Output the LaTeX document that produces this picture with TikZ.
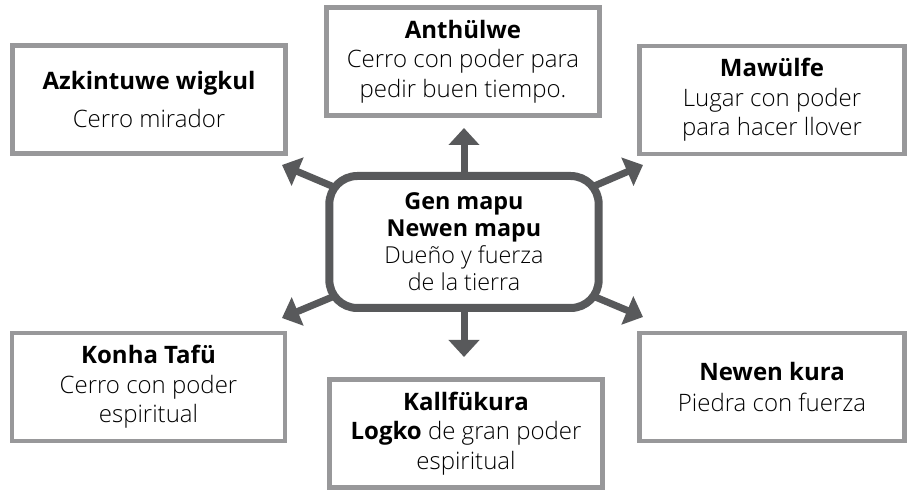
\documentclass[tikz,border=0pt]{standalone}
\usepackage{fontspec}
\setmainfont{Open Sans Light}[BoldFont=Open Sans Bold]
\usetikzlibrary{arrows.meta,backgrounds}
\definecolor{boxgray}{RGB}{152,152,154}
\definecolor{hubgray}{RGB}{88,89,91}
\begin{document}
\begin{tikzpicture}[x=0.75pt,y=-0.75pt,
    infobox/.style={draw=boxgray, line width=3.4pt, fill=white, minimum width=205pt, minimum height=81pt, inner sep=0pt, align=center, font=\fontsize{18}{22}\selectfont},
    hub/.style={draw=hubgray, line width=6pt, fill=white, rounded corners=21pt, minimum width=202pt, minimum height=99pt, inner sep=0pt, align=center, font=\fontsize{17.5}{20.3}\selectfont},
    spoke/.style={draw=hubgray, line width=5.25pt, -{Triangle[width=22.5pt,length=12.75pt]}}]

                \useasboundingbox (0,0) rectangle (907,491);

                \node[hub] (main) at (464,242) {\textbf{Gen mapu}\\\textbf{Newen mapu}\\Dueño y fuerza\\de la tierra};

                \node[infobox] (azk) at (149,99.5) {\textbf{Azkintuwe wigkul}\\[6pt]Cerro mirador};
                \node[infobox] (anth) at (463,61.5) {\textbf{Anthülwe}\\Cerro con poder para\\pedir buen tiempo.};
                \node[infobox, minimum width=199pt] (maw) at (772,100) {\textbf{Mawülfe}\\Lugar con poder\\para hacer llover};
                \node[infobox] (konha) at (148.5,387) {\textbf{Konha Tafü}\\Cerro con poder\\espiritual};
                \node[infobox] (kall) at (466,433.5) {\textbf{Kallfükura}\\\textbf{Logko} de gran poder\\espiritual};
                \node[infobox, minimum width=199pt] (kura) at (772,387) {\textbf{Newen kura}\\[1pt]Piedra con fuerza};

                \coordinate (tipUL) at (282,165);
                \coordinate (tipU) at (464,128);
                \coordinate (tipUR) at (643,165);
                \coordinate (tipLL) at (282,318);
                \coordinate (tipD) at (464,357);
                \coordinate (tipLR) at (643,317);

                \begin{scope}[on background layer]
                \foreach \t in {tipUL,tipU,tipUR,tipLL,tipD,tipLR}
                    \draw[spoke] (main.center) -- (\t);
                \end{scope}

            \end{tikzpicture}
\end{document}
